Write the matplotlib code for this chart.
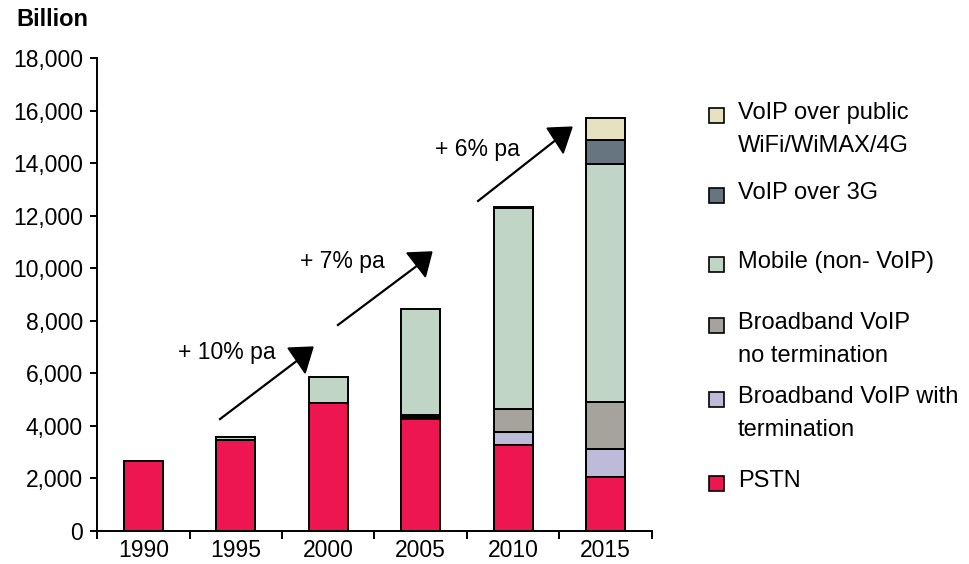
import matplotlib
matplotlib.use("Agg")
import matplotlib.pyplot as plt
from matplotlib.patches import Polygon, Rectangle
from matplotlib.ticker import FuncFormatter, FixedLocator
import numpy as np

plt.rcParams['font.family'] = ['Liberation Sans', 'DejaVu Sans']

years = ["1990", "1995", "2000", "2005", "2010", "2015"]

# Minutes of voice traffic, billions, by technology
pstn         = [2650, 3460, 4870, 4260, 3270, 2050]
bb_with_term = [0,    0,    0,    60,   500,  1070]
bb_no_term   = [0,    0,    0,    90,   870,  1790]
mobile       = [0,    120,  990,  4040, 7650, 9050]
voip_3g      = [0,    0,    0,    0,    40,   920]
voip_wifi    = [0,    0,    0,    0,    0,    840]

series = [
    ("PSTN", pstn, "#ED1651"),
    ("Broadband VoIP with\ntermination", bb_with_term, "#BDBBD9"),
    ("Broadband VoIP\nno termination", bb_no_term, "#A6A39C"),
    ("Mobile (non-VoIP)", mobile, "#C0D5C5"),
    ("VoIP over 3G", voip_3g, "#66757F"),
    ("VoIP over public\nWiFi/WiMAX/4G", voip_wifi, "#E6E1BF"),
]

FS = 16.5
LEG_FS = 17

W, H = 969, 564
fig = plt.figure(figsize=(W / 100, H / 100), dpi=100)
ax = fig.add_axes([97 / W, 1 - 531 / H, (652 - 97) / W, (531 - 58) / H])

x = np.arange(len(years))
bottom = np.zeros(len(years))
for name, vals, col in series:
    v = np.array(vals, dtype=float)
    mask = v > 0
    ax.bar(x[mask], v[mask], bottom=bottom[mask], width=0.42, color=col,
           edgecolor="black", linewidth=1.4, zorder=2)
    bottom += v

ax.set_xlim(-0.5, 5.5)
ax.set_ylim(0, 18000)
ax.set_yticks(np.arange(0, 18001, 2000))
ax.yaxis.set_major_formatter(FuncFormatter(lambda v, p: f"{int(v):,}"))
ax.set_xticks(x)
ax.set_xticklabels(years)
ax.xaxis.set_minor_locator(FixedLocator(np.arange(-0.5, 5.6, 1.0)))
ax.tick_params(axis="x", which="major", length=0, labelsize=FS, pad=6)
ax.tick_params(axis="x", which="minor", length=5.5, width=1.4, direction="out")
ax.tick_params(axis="y", length=5, width=1.4, direction="out", labelsize=FS, pad=5)
for s in ("top", "right"):
    ax.spines[s].set_visible(False)
for s in ("left", "bottom"):
    ax.spines[s].set_linewidth(1.4)

# Growth arrows with CAGR labels
arrows = [
    ((0.83, 4260), (1.67, 6500), [(1.565, 6960), (1.835, 7000), (1.75, 6010)], (0.376, 6810), "+ 10% pa"),
    ((2.105, 7840), (2.97, 10120), [(2.85, 10580), (3.12, 10620), (3.05, 9670)], (1.695, 10240), "+ 7% pa"),
    ((3.62, 12560), (4.46, 14880), [(4.365, 15330), (4.635, 15370), (4.54, 14380)], (3.154, 14500), "+ 6% pa"),
]
for start, end, tri, tpos, label in arrows:
    ax.plot([start[0], end[0]], [start[1], end[1]], color="black", lw=1.6,
            clip_on=False, zorder=3)
    ax.add_patch(Polygon(tri, closed=True, facecolor="black", edgecolor="black",
                         clip_on=False, zorder=3))
    ax.text(tpos[0], tpos[1], label, fontsize=FS, ha="left", va="center")

fig.text(16 / W, 1 - 20 / H, "Billion", fontsize=17, fontweight="bold",
         ha="left", va="center")

# Legend drawn as swatches beside the plot
legend_rows = [
    ("VoIP over public\nWiFi/WiMAX/4G", "#E6E1BF", 113),
    ("VoIP over 3G", "#66757F", 193),
    ("Mobile (non- VoIP)", "#C0D5C5", 262),
    ("Broadband VoIP\nno termination", "#A6A39C", 323),
    ("Broadband VoIP with\ntermination", "#BDBBD9", 397),
    ("PSTN", "#ED1651", 481),
]
sq = 15
for label, col, py in legend_rows:
    fig.patches.append(Rectangle((709 / W, 1 - (py + 2.5 + sq / 2) / H), sq / W, sq / H,
                                 transform=fig.transFigure, facecolor=col,
                                 edgecolor="black", linewidth=1.2))
    fig.text(738 / W, 1 - (py - 11) / H, label, fontsize=LEG_FS, ha="left", va="top",
             linespacing=1.62)

fig.savefig("out.png", dpi=100)
